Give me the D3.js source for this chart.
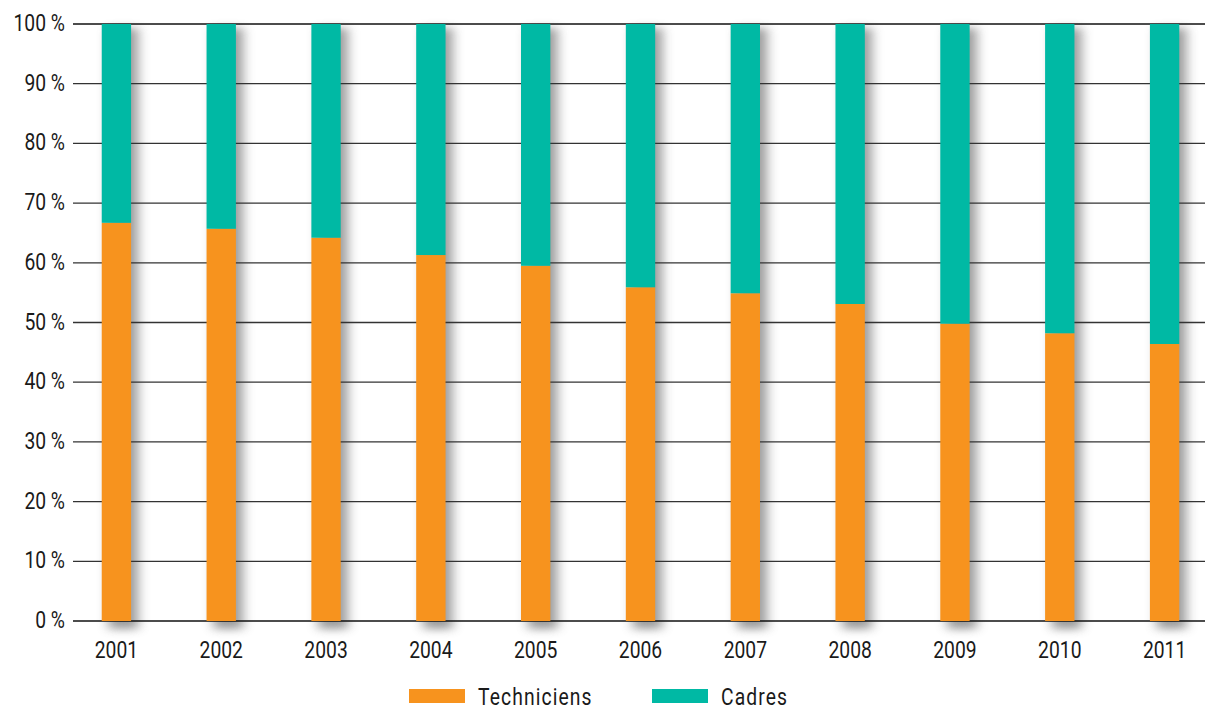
<!DOCTYPE html>
<html>
<head>
<meta charset="utf-8">
<script src="https://cdn.jsdelivr.net/npm/d3@7"></script>
<style>
  body { margin: 0; background: #fff; }
  svg text { font-family: "Roboto", sans-serif; fill: #1a1a1a; }
</style>
</head>
<body>
<div id="chart"></div>
<script>
var years = ["2001","2002","2003","2004","2005","2006","2007","2008","2009","2010","2011"];
var techniciens = [66.7, 65.7, 64.2, 61.3, 59.5, 55.9, 54.9, 53.1, 49.8, 48.2, 46.4];
var cadres = techniciens.map(function(v){ return 100 - v; });
var yTicks = [0,10,20,30,40,50,60,70,80,90,100];
var seriesNames = ["Techniciens", "Cadres"];
var colors = ["#f7931e", "#00b9a4"];

var width = 1205, height = 709;
var squeeze = 0.84; // condensed look
var svg = d3.select("#chart").append("svg")
  .attr("width", width)
  .attr("height", height);

var x = d3.scaleBand().domain(years).range([64, 1217]).paddingInner(0.72).paddingOuter(0.36);
var y = d3.scaleLinear().domain([0, 100]).range([621, 24]);

var defs = svg.append("defs");
defs.append("filter").attr("id", "shadow")
  .attr("x", "-50%").attr("y", "-10%").attr("width", "200%").attr("height", "120%")
  .append("feGaussianBlur").attr("stdDeviation", "6 4");

// shadows behind bars
svg.append("g").selectAll("rect").data(years).enter()
  .append("rect")
  .attr("x", function(d){ return x(d) + 7; })
  .attr("y", y(100) + 4)
  .attr("width", x.bandwidth())
  .attr("height", y(0) - y(100) + 4)
  .attr("fill", "#7a7a7a")
  .attr("opacity", 0.75)
  .attr("filter", "url(#shadow)");

// gridlines
svg.append("g").selectAll("line").data(yTicks).enter()
  .append("line")
  .attr("x1", 73).attr("x2", 1205)
  .attr("y1", function(d){ return y(d); })
  .attr("y2", function(d){ return y(d); })
  .attr("stroke", function(d){ return (d == 0 || d == 100) ? "#111" : "#333"; })
  .attr("stroke-width", 1.3);

// y labels
svg.append("g").selectAll("text").data(yTicks).enter()
  .append("text")
  .attr("transform", function(d){ return "translate(65," + (y(d) + 7) + ") scale(" + squeeze + ",1)"; })
  .attr("text-anchor", "end")
  .attr("font-size", "23px")
  .text(function(d){ return d + " %"; });

// stacked bars
var stackData = years.map(function(yr, i){ return {year: yr, Techniciens: techniciens[i], Cadres: cadres[i]}; });
var stack = d3.stack().keys(seriesNames)(stackData);

svg.append("g").selectAll("g").data(stack).enter()
  .append("g")
  .attr("fill", function(d, i){ return colors[i]; })
  .selectAll("rect").data(function(d){ return d; }).enter()
  .append("rect")
  .attr("x", function(d){ return x(d.data.year); })
  .attr("y", function(d){ return y(d[1]); })
  .attr("width", x.bandwidth())
  .attr("height", function(d){ return y(d[0]) - y(d[1]); });

// x labels
svg.append("g").selectAll("text").data(years).enter()
  .append("text")
  .attr("transform", function(d){ return "translate(" + (x(d) + x.bandwidth() / 2) + ",658) scale(" + squeeze + ",1)"; })
  .attr("text-anchor", "middle")
  .attr("font-size", "23px")
  .text(function(d){ return d; });

// legend
var legendX = [409, 652];
var legend = svg.append("g").selectAll("g").data(seriesNames).enter()
  .append("g")
  .attr("transform", function(d, i){ return "translate(" + legendX[i] + ",689)"; });
legend.append("rect")
  .attr("width", 56).attr("height", 14)
  .attr("fill", function(d, i){ return colors[i]; });
legend.append("text")
  .attr("transform", "translate(69,16) scale(" + squeeze + ",1)")
  .attr("font-size", "23px")
  .attr("letter-spacing", "1.3px")
  .text(function(d){ return d; });
</script>
</body>
</html>
